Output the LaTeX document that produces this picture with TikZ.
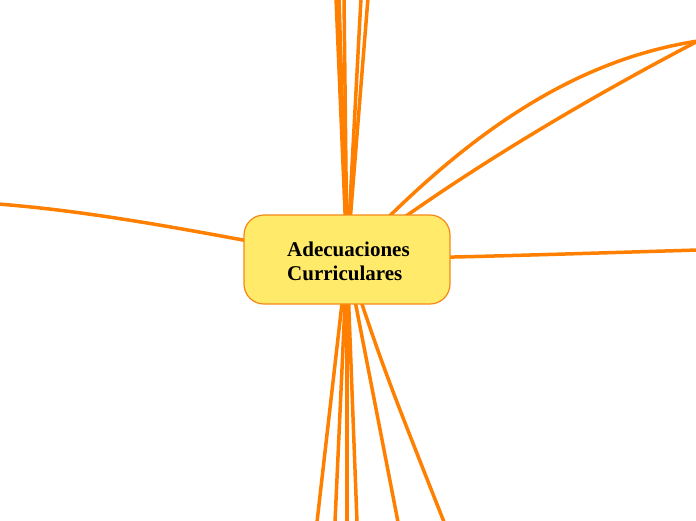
\documentclass[tikz,border=0pt]{standalone}
\usepackage{fontspec}
\setmainfont{Liberation Serif}
\pgfdeclarelayer{bg}
\pgfsetlayers{bg,main}
\definecolor{branch}{RGB}{255,128,0}
\definecolor{nodefill}{RGB}{255,234,106}
\definecolor{nodeedge}{RGB}{245,136,20}
\tikzset{
  conn/.style={draw=branch, line width=3.5pt, line cap=round},
  central/.style={draw=nodeedge, fill=nodefill, line width=1.2pt, rounded corners=20pt,
    minimum width=206pt, minimum height=89pt, inner sep=0pt},
  ctext/.style={font=\fontsize{21}{24}\selectfont\bfseries, align=left, text=black, inner sep=0pt}
}
\begin{document}
\begin{tikzpicture}[x=1pt,y=-1pt]
\useasboundingbox (0,0) rectangle (696,520);
\node[central] (c) at (347,259.5) {};
\node[ctext, anchor=north west] (t) at (287,242) {Adecuaciones\\Curriculares};
% endpoints
\coordinate (t1) at (336,-2);
\coordinate (t2) at (339,-2);
\coordinate (t3) at (344,-2);
\coordinate (t4) at (361,-2);
\coordinate (t5) at (368,-2);
\coordinate (b1) at (317,522);
\coordinate (b2) at (335,522);
\coordinate (b3) at (347,522);
\coordinate (b4) at (357,522);
\coordinate (b5) at (398,522);
\coordinate (b6) at (444,522);
\coordinate (r1) at (698,41);
\coordinate (r2) at (698,250);
\coordinate (l1) at (-2,204);
\begin{pgfonlayer}{bg}
\draw[conn] (c.center) -- (t1);
\draw[conn] (c.center) -- (t2);
\draw[conn] (c.center) -- (t3);
\draw[conn] (c.center) -- (t4);
\draw[conn] (c.center) -- (t5);
\draw[conn] (c.center) -- (b1);
\draw[conn] (c.center) -- (b2);
\draw[conn] (c.center) -- (b3);
\draw[conn] (c.center) -- (b4);
\draw[conn] (c.center) -- (b5);
\draw[conn] (c.center) .. controls (384,370) .. (b6);
\draw[conn] (c.center) .. controls (450,150) and (560,62) .. (r1);
\draw[conn] (c.center) .. controls (460,172) and (600,92) .. (r1);
\draw[conn] (c.center) .. controls (500,256) .. (r2);
\draw[conn] (c.center) .. controls (200,232) and (100,212) .. (l1);
\end{pgfonlayer}
\end{tikzpicture}
\end{document}
